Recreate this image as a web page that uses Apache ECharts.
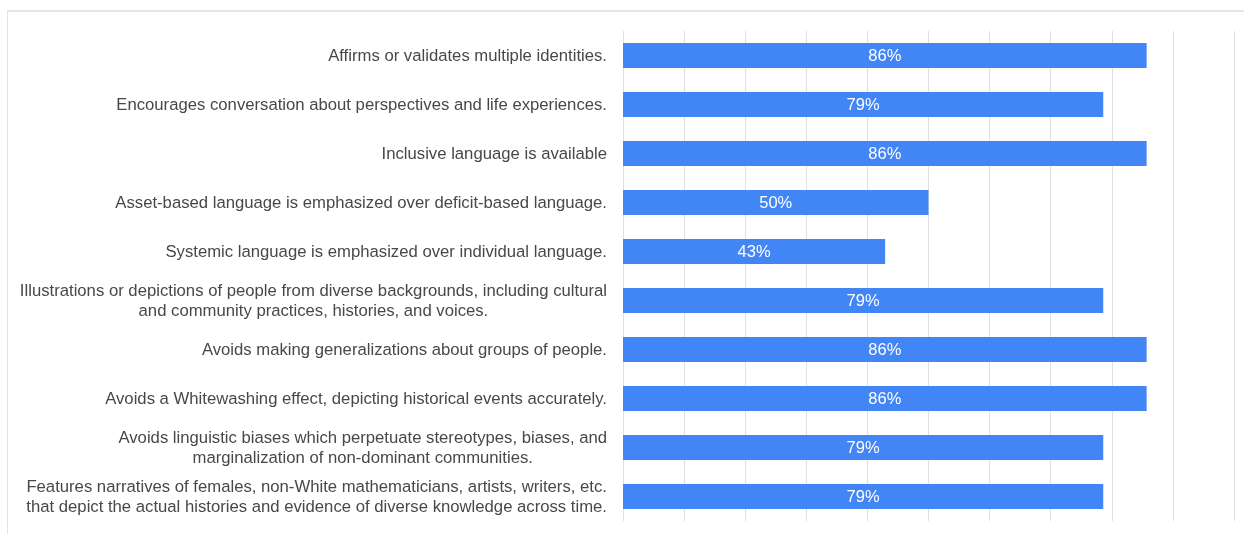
<!DOCTYPE html>
<html>
<head>
<meta charset="utf-8">
<script src="https://cdn.jsdelivr.net/npm/echarts@6/dist/echarts.min.js"></script>
<style>
html,body{margin:0;padding:0;background:#fff;}
#chart{position:absolute;left:0;top:0;width:1244px;height:534px;}
#frame{position:absolute;left:7px;top:10px;width:1237px;height:524px;border-top:2px solid #e6e6e6;border-left:1px solid #e3e3e3;box-sizing:border-box;pointer-events:none;}
</style>
</head>
<body>
<div id="chart"></div>
<div id="frame"></div>
<script>
const categories = [
  "Affirms or validates multiple identities.",
  "Encourages conversation about perspectives and life experiences.",
  "Inclusive language is available",
  "Asset-based language is emphasized over deficit-based language.",
  "Systemic language is emphasized over individual language.",
  "Illustrations or depictions of people from diverse backgrounds, including cultural\nand community practices, histories, and voices.",
  "Avoids making generalizations about groups of people.",
  "Avoids a Whitewashing effect, depicting historical events accurately.",
  "Avoids linguistic biases which perpetuate stereotypes, biases, and\nmarginalization of non-dominant communities.",
  "Features narratives of females, non-White mathematicians, artists, writers, etc.\nthat depict the actual histories and evidence of diverse knowledge across time."
];
const values = [85.7, 78.6, 85.7, 50, 42.9, 78.6, 85.7, 85.7, 78.6, 78.6];

const FONT = 'Liberation Sans, Arial, Helvetica, sans-serif';
const chart = echarts.init(document.getElementById('chart'));
chart.setOption({
  animation: false,
  grid: {left: 623, right: 10, top: 31, bottom: 13, containLabel: false},
  xAxis: {
    type: 'value', min: 0, max: 100, interval: 10,
    axisLabel: {show: false}, axisLine: {show: false}, axisTick: {show: false},
    splitLine: {show: true, lineStyle: {color: '#e0e0e0', width: 1}}
  },
  yAxis: {
    type: 'category', inverse: true, data: categories,
    axisLine: {show: false}, axisTick: {show: false},
    axisLabel: {
      margin: 16,
      padding: [2, 0, 0, 0],
      formatter: function (v) {
        return v.split('\n').map(function (l) { return '{c|' + l + '}'; }).join('\n');
      },
      rich: {
        c: {align: 'center', fontSize: 16.7, lineHeight: 20, color: '#484848', fontFamily: FONT}
      }
    }
  },
  series: [{
    type: 'bar', data: values, barWidth: 25,
    itemStyle: {color: '#4285f4'},
    label: {
      show: true, position: 'inside', color: '#fff', fontSize: 16.5, fontFamily: FONT,
      offset: [0, 1],
      formatter: function (p) { return Math.round(p.value) + '%'; }
    }
  }]
});
</script>
</body>
</html>
